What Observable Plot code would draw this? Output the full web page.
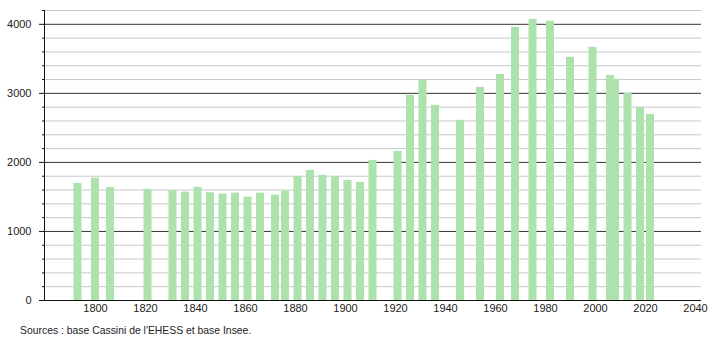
<!DOCTYPE html>
<html>
<head>
<meta charset="utf-8">
<script src="https://cdn.jsdelivr.net/npm/d3@7"></script>
<script src="https://cdn.jsdelivr.net/npm/@observablehq/plot@0.6"></script>
<style>
  body { margin: 0; background: #fff; font-family: "Liberation Sans", Arial, sans-serif; }
  #caption { font-size: 10.4px; color: #222; padding-left: 20px; margin-top: 6px; line-height: 14px; }
</style>
</head>
<body>
<div id="chart"></div>
<div id="caption">Sources : base Cassini de l'EHESS et base Insee.</div>
<script>
const years = [1793, 1800, 1806, 1821, 1831, 1836, 1841, 1846, 1851, 1856, 1861, 1866, 1872, 1876, 1881, 1886, 1891, 1896, 1901, 1906, 1911, 1921, 1926, 1931, 1936, 1946, 1954, 1962, 1968, 1975, 1982, 1990, 1999, 2006, 2008, 2013, 2018, 2022];
const population = [1696, 1773, 1638, 1609, 1590, 1570, 1638, 1560, 1541, 1555, 1497, 1555, 1526, 1584, 1797, 1884, 1812, 1797, 1739, 1710, 2029, 2159, 2971, 3188, 2826, 2609, 3087, 3275, 3957, 4072, 4043, 3522, 3667, 3261, 3203, 3000, 2797, 2696];
const majorTicks = [0, 1000, 2000, 3000, 4000];
const minorTicks = [200, 400, 600, 800, 1200, 1400, 1600, 1800, 2200, 2400, 2600, 2800, 3200, 3400, 3600, 3800, 4200];
const xTicks = [1800, 1820, 1840, 1860, 1880, 1900, 1920, 1940, 1960, 1980, 2000, 2020, 2040];

const data = years.map((y, i) => ({year: y, pop: population[i]}));
const halfWidth = 1.6;

const chart = Plot.plot({
  width: 710,
  height: 318,
  marginTop: 10,
  marginBottom: 18,
  marginLeft: 44,
  marginRight: 9,
  style: {fontFamily: "'Liberation Sans', Arial, sans-serif", fontSize: "11px", color: "#222"},
  x: {domain: [1779.6, 2042.4], label: null},
  y: {domain: [0, 4200], label: null},
  marks: [
    Plot.ruleY(minorTicks, {stroke: "#c8c8c8", strokeWidth: 1}),
    Plot.ruleY(majorTicks.slice(1), {stroke: "#333", strokeWidth: 1}),
    Plot.rectY(data, {x1: d => d.year - halfWidth, x2: d => d.year + halfWidth, y: "pop", fill: "#ade2ad"}),
    Plot.ruleY([0], {stroke: "#111", strokeWidth: 1}),
    Plot.ruleX([1779.6], {stroke: "#111", strokeWidth: 1}),
    Plot.axisY(majorTicks, {tickSize: 5, tickPadding: 8, tickFormat: d => String(d), stroke: "#111", label: null}),
    Plot.axisY(minorTicks, {tickSize: 2, tickFormat: () => "", stroke: "#111", label: null}),
    Plot.axisX(xTicks, {tickSize: 0, tickPadding: 4, tickFormat: d => String(d), label: null})
  ]
});
document.getElementById("chart").appendChild(chart);
</script>
</body>
</html>
